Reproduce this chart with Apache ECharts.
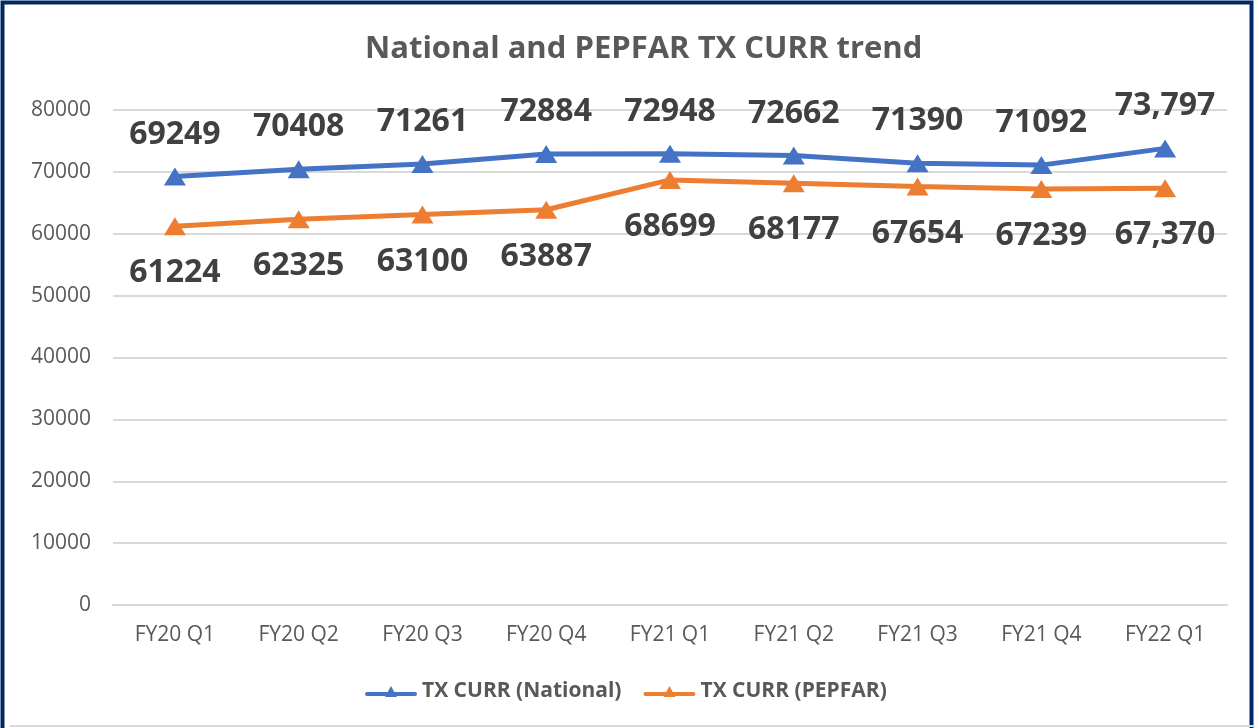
<!DOCTYPE html>
<html>
<head>
<meta charset="utf-8">
<script src="https://cdn.jsdelivr.net/npm/echarts@6/dist/echarts.min.js"></script>
<style>
html,body{margin:0;padding:0;background:#fff;}
#chart{width:1259px;height:728px;}
</style>
</head>
<body>
<div id="chart"></div>
<script>
const categories = ['FY20 Q1','FY20 Q2','FY20 Q3','FY20 Q4','FY21 Q1','FY21 Q2','FY21 Q3','FY21 Q4','FY22 Q1'];
const national = [69249,70408,71261,72884,72948,72662,71390,71092,73797];
const pepfar = [61224,62325,63100,63887,68699,68177,67654,67239,67370];
const commaIndex = [8]; // labels shown with thousands separator

const FONT = '"Open Sans", "Noto Sans", sans-serif';
function fmt(p){
  return commaIndex.indexOf(p.dataIndex) >= 0 ? p.value.toLocaleString('en-US') : String(p.value);
}
const legendIcon = 'path://M2,5 L50,5 A2,2 0 0 1 50,9 L2,9 A2,2 0 0 1 2,5 Z M26,-1 L32,10 L20,10 Z';
const chart = echarts.init(document.getElementById('chart'));
chart.setOption({
  animation:false,
  backgroundColor:'#fff',
  graphic:[
    {type:'rect', left:0, top:0, shape:{x:8,y:7,width:1249,height:730}, style:{fill:'none', stroke:'#002868', lineWidth:4}, z:100},
    {type:'line', shape:{x1:10,y1:726,x2:1255,y2:726}, style:{stroke:'#d9d9d9', lineWidth:2}, z:100}
  ],
  title:{
    text:'National and PEPFAR TX CURR trend',
    left:360, top:29,
    textStyle:{fontFamily:FONT, fontSize:31, fontWeight:'bold', color:'#595959'}
  },
  legend:{
    bottom:21, left:360, itemGap:22, itemWidth:52, itemHeight:14,
    textStyle:{fontFamily:FONT, fontSize:21, fontWeight:'bold', color:'#595959'},
    data:[{name:'TX CURR (National)', icon:legendIcon},{name:'TX CURR (PEPFAR)', icon:legendIcon}]
  },
  grid:{left:113, right:32, top:110, bottom:123},
  xAxis:{
    type:'category', data:categories, boundaryGap:true,
    axisLine:{show:true, lineStyle:{color:'#d9d9d9', width:2}},
    axisTick:{show:false},
    axisLabel:{fontFamily:FONT, fontSize:21, color:'#595959', margin:20}
  },
  yAxis:{
    type:'value', min:0, max:80000, interval:10000,
    axisLine:{show:false}, axisTick:{show:false},
    splitLine:{lineStyle:{color:'#d9d9d9', width:2}},
    axisLabel:{fontFamily:FONT, fontSize:21, color:'#595959', margin:22, formatter:function(v){return String(v);}}
  },
  series:[
    {
      name:'TX CURR (National)', type:'line', data:national,
      symbol:'triangle', symbolSize:[22,18],
      itemStyle:{color:'#4472C4'},
      lineStyle:{color:'#4472C4', width:5},
      label:{show:true, position:'top', distance:17, formatter:fmt,
        fontFamily:FONT, fontSize:32, fontWeight:'bold', color:'#404040'}
    },
    {
      name:'TX CURR (PEPFAR)', type:'line', data:pepfar,
      symbol:'triangle', symbolSize:[22,18],
      itemStyle:{color:'#ED7D31'},
      lineStyle:{color:'#ED7D31', width:5},
      label:{show:true, position:'bottom', distance:22, formatter:fmt,
        fontFamily:FONT, fontSize:32, fontWeight:'bold', color:'#404040'}
    }
  ]
});
</script>
</body>
</html>
